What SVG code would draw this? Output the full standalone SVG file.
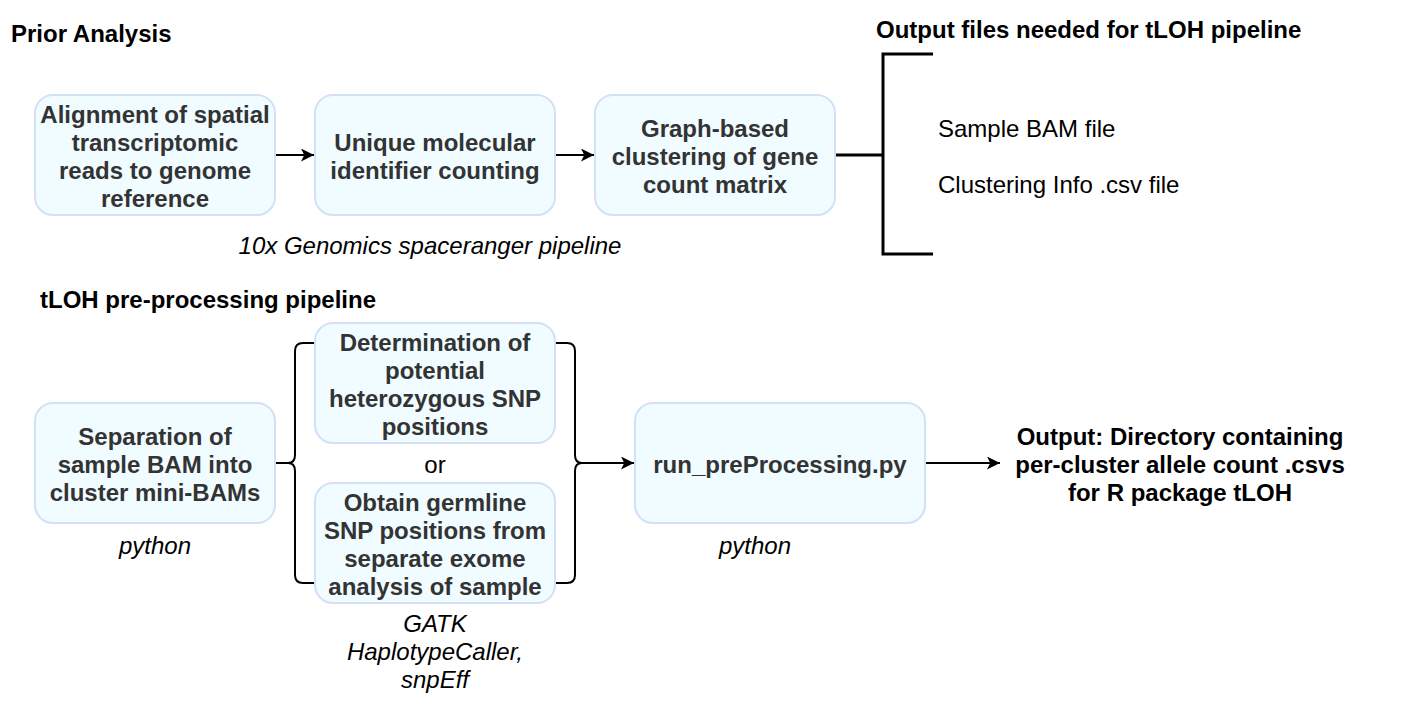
<svg xmlns="http://www.w3.org/2000/svg" width="1416" height="714" viewBox="0 0 1416 714">
<defs>
<style>
.box{fill:#F0FCFF;stroke:#D4E1F5;stroke-width:2}
.bt{font-family:"Liberation Sans",Arial,Helvetica,sans-serif;font-size:24px;font-weight:bold;fill:#333333;text-anchor:middle}
.h{font-family:"Liberation Sans",Arial,Helvetica,sans-serif;font-size:24px;font-weight:bold;fill:#000000}
.t{font-family:"Liberation Sans",Arial,Helvetica,sans-serif;font-size:24px;fill:#000000}
.i{font-family:"Liberation Sans",Arial,Helvetica,sans-serif;font-size:24px;font-style:italic;fill:#000000;text-anchor:middle}
.ln{fill:none;stroke:#000000;stroke-width:2}
.thick{fill:none;stroke:#000000;stroke-width:3}
</style>
<marker id="arr" viewBox="0 0 10 10" refX="10" refY="5" markerWidth="13" markerHeight="13" markerUnits="userSpaceOnUse" orient="auto">
<path d="M0,0 L10,5 L0,10 L2.5,5 Z" fill="#000000"/>
</marker>
</defs>
<rect width="1416" height="714" fill="#ffffff"/>

<g id="titles">
<text class="h" x="11" y="42">Prior Analysis</text>
<text class="h" x="876" y="38">Output files needed for tLOH pipeline</text>
<text class="h" x="40" y="308">tLOH pre-processing pipeline</text>
<text class="i" x="430" y="254">10x Genomics spaceranger pipeline</text>
</g>

<g id="connectors">
<line class="ln" x1="275" y1="155" x2="314" y2="155" marker-end="url(#arr)"/>
<line class="ln" x1="555" y1="155" x2="594" y2="155" marker-end="url(#arr)"/>
<line class="thick" x1="835" y1="155" x2="883" y2="155"/>
<path class="thick" d="M933,54 L883,54 L883,254 L933,254"/>
<line class="ln" x1="275" y1="463" x2="288" y2="463"/>
<path class="ln" d="M314,343 L303,343 Q295,343 295,351 L295,455 Q295,463 288,463 Q295,463 295,471 L295,575 Q295,583 303,583 L314,583"/>
<path class="ln" d="M556,343 L567,343 Q575,343 575,351 L575,455 Q575,463 582,463 Q575,463 575,471 L575,575 Q575,583 567,583 L556,583"/>
<line class="ln" x1="582" y1="463" x2="634" y2="463" marker-end="url(#arr)"/>
<line class="ln" x1="925" y1="463" x2="1000" y2="463" marker-end="url(#arr)"/>
</g>

<g id="n-align">
<rect class="box" x="35" y="95" width="240" height="120" rx="18"/>
<text class="bt" x="155" y="123">Alignment of spatial</text>
<text class="bt" x="155" y="151">transcriptomic</text>
<text class="bt" x="155" y="179">reads to genome</text>
<text class="bt" x="155" y="207">reference</text>
</g>
<g id="n-umi">
<rect class="box" x="315" y="95" width="240" height="120" rx="18"/>
<text class="bt" x="435" y="151">Unique molecular</text>
<text class="bt" x="435" y="179">identifier counting</text>
</g>
<g id="n-cluster">
<rect class="box" x="595" y="95" width="240" height="120" rx="18"/>
<text class="bt" x="715" y="137">Graph-based</text>
<text class="bt" x="715" y="165">clustering of gene</text>
<text class="bt" x="715" y="193">count matrix</text>
</g>
<g id="outfiles">
<text class="t" x="938" y="137">Sample BAM file</text>
<text class="t" x="938" y="193">Clustering Info .csv file</text>
</g>

<g id="n-sep">
<rect class="box" x="35" y="403" width="240" height="120" rx="18"/>
<text class="bt" x="155" y="445">Separation of</text>
<text class="bt" x="155" y="473">sample BAM into</text>
<text class="bt" x="155" y="501">cluster mini-BAMs</text>
<text class="i" x="155" y="554">python</text>
</g>
<g id="n-det">
<rect class="box" x="315" y="323" width="240" height="120" rx="18"/>
<text class="bt" x="435" y="351">Determination of</text>
<text class="bt" x="435" y="379">potential</text>
<text class="bt" x="435" y="407">heterozygous SNP</text>
<text class="bt" x="435" y="435">positions</text>
</g>
<g id="or">
<text class="t" x="435" y="473" text-anchor="middle">or</text>
</g>
<g id="n-germ">
<rect class="box" x="315" y="483" width="240" height="120" rx="18"/>
<text class="bt" x="435" y="511">Obtain germline</text>
<text class="bt" x="435" y="539">SNP positions from</text>
<text class="bt" x="435" y="567">separate exome</text>
<text class="bt" x="435" y="595">analysis of sample</text>
<text class="i" x="435" y="632">GATK</text>
<text class="i" x="435" y="660">HaplotypeCaller,</text>
<text class="i" x="435" y="688">snpEff</text>
</g>
<g id="n-run">
<rect class="box" x="635" y="403" width="290" height="120" rx="18"/>
<text class="bt" x="780" y="473">run_preProcessing.py</text>
<text class="i" x="755" y="554">python</text>
</g>
<g id="n-out">
<text class="h" x="1180" y="445" text-anchor="middle">Output: Directory containing</text>
<text class="h" x="1180" y="473" text-anchor="middle">per-cluster allele count .csvs</text>
<text class="h" x="1180" y="501" text-anchor="middle">for R package tLOH</text>
</g>
</svg>
